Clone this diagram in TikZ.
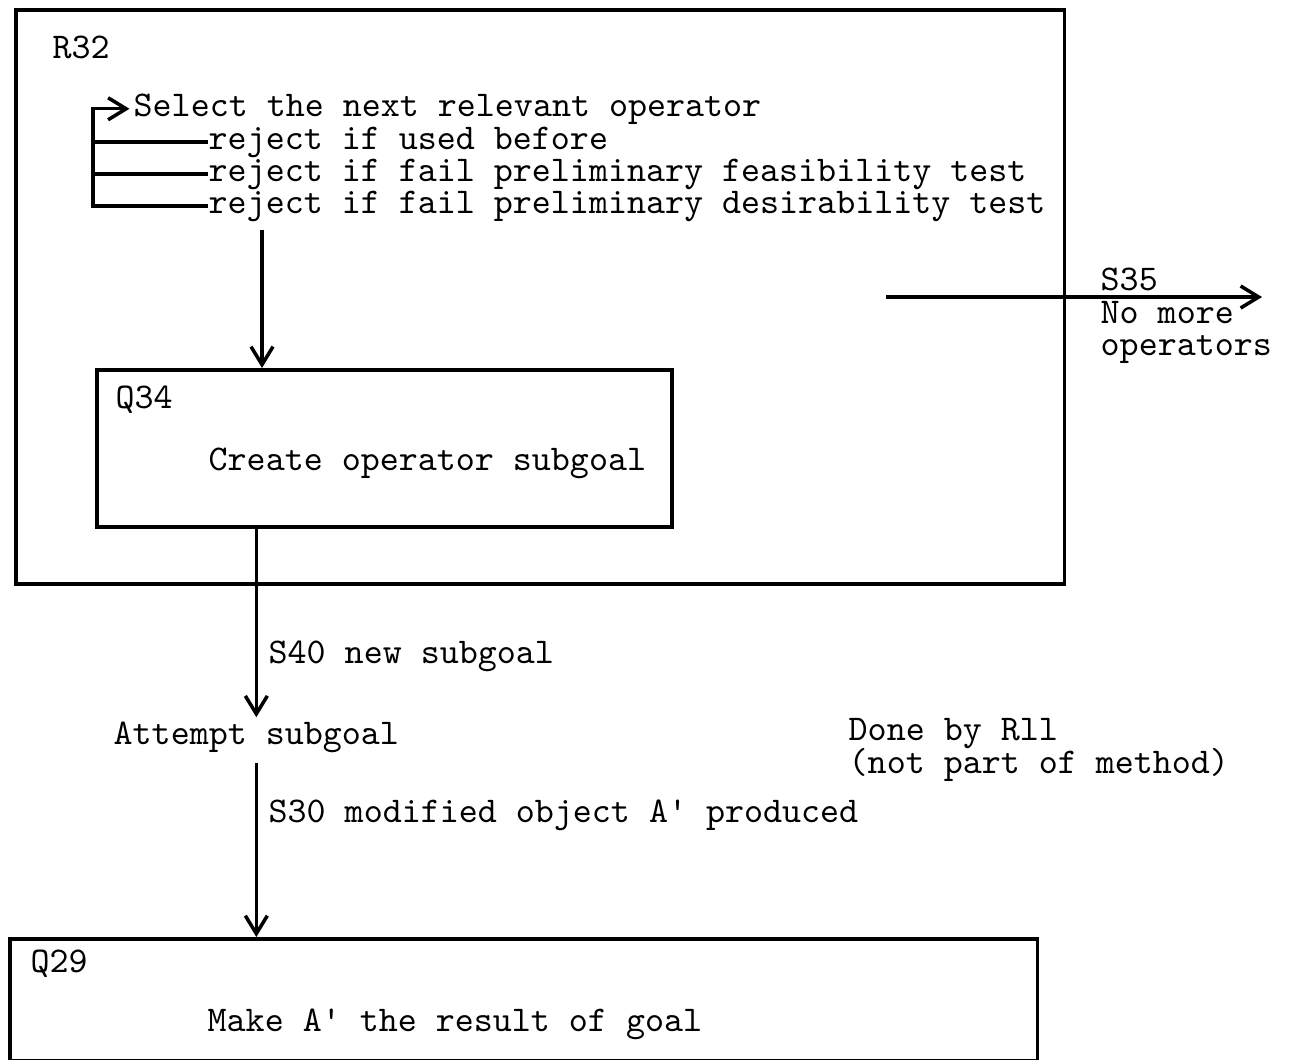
\documentclass[tikz,border=0pt]{standalone}
\usetikzlibrary{arrows.meta}
\begin{document}
\begin{tikzpicture}
	[x=0.01cm, y=-0.01cm,
	txt/.style ={inner sep=0pt, anchor=base west, font=\fontsize{10.3}{12}\selectfont\ttfamily},
	box/.style ={draw, line width=1pt, inner sep=0pt, anchor=north west},
	line/.style ={draw, line width=0.9pt},
	flow/.style ={draw, line width=0.9pt, -{Straight Barb[length=1.8mm, width=2.2mm, line width=1pt]}}]
	\useasboundingbox (0,0) rectangle (1289,1059);
	% boxes
	\draw (14,8) node[box, minimum width=10.48cm, minimum height=5.74cm] (r32) {};
	\draw (95,368) node[box, minimum width=5.75cm, minimum height=1.57cm] (q34) {};
	\draw (8,937) node[box, minimum width=10.27cm, minimum height=1.22cm] (q29) {};
	% texts
	\draw (52,58) node[txt] (r32lbl) {R32};
	\draw (133,116) node[txt] (select) {Select the next relevant operator};
	\draw (208,149) node[txt] (rej1) {reject if used before};
	\draw (208,181) node[txt] (rej2) {reject if fail preliminary feasibility test};
	\draw (208,213) node[txt] (rej3) {reject if fail preliminary desirability test};
	\draw (1100,290) node[txt] (s35) {S35};
	\draw (1100,323) node[txt] (nomore) {No more};
	\draw (1100,355) node[txt] (ops) {operators};
	\draw (115,408) node[txt] (q34lbl) {Q34};
	\draw (208,470) node[txt] (create) {Create operator subgoal};
	\draw (268,663) node[txt] (s40) {S40 new subgoal};
	\draw (113,744) node[txt] (attempt) {Attempt subgoal};
	\draw (848,740) node[txt] (done) {Done by Rll};
	\draw (848,773) node[txt] (notpart) {(not part of method)};
	\draw (268,822) node[txt] (s30) {S30 modified object A\textquotesingle{} produced};
	\draw (30,972) node[txt] (q29lbl) {Q29};
	\draw (207,1031) node[txt] (make) {Make A\textquotesingle{} the result of goal};
	% connectors
	\coordinate (loop) at ([xshift=-4mm]select.west);
	\coordinate (tail) at (262,230);
	\coordinate (s35a) at (886,297);
	\coordinate (s35b) at (1262,297);
	\draw[flow, shorten >=1pt] (rej3.west) -| (loop) -- (select.west);
	\foreach \r in {rej1,rej2}
		\draw[line] (\r.west) -- (\r.west -| loop);
	\draw[flow] (tail) -- (tail |- q34.north);
	\draw[flow, shorten >=1pt] (q34.south -| attempt.north) -- (attempt.north);
	\draw[flow, shorten <=1mm] (attempt.south) -- (attempt.south |- q29.north);
	\draw[flow] (s35a) -- (s35b);
\end{tikzpicture}
\end{document}
